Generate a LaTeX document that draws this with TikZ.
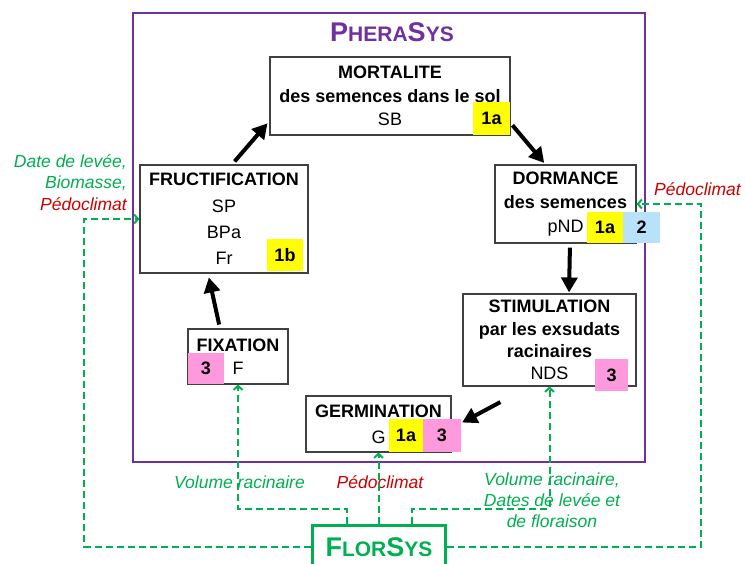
\documentclass[tikz,border=0pt]{standalone}
\usepackage{fontspec}
\setmainfont{Liberation Sans}
\usetikzlibrary{arrows.meta}
\definecolor{phpurple}{RGB}{112,48,160}
\definecolor{flgreen}{RGB}{0,176,80}
\definecolor{pdred}{RGB}{204,0,0}
\definecolor{bdyellow}{RGB}{255,255,0}
\definecolor{bdblue}{RGB}{183,226,250}
\definecolor{bdpink}{RGB}{255,153,221}
\definecolor{boxgray}{RGB}{64,64,64}
\newcommand\bigL[1]{{\fontsize{27}{27}\selectfont #1}}
\newcommand\smallL[1]{{\fontsize{21}{21}\selectfont #1}}
\tikzset{
  procbox/.style={draw=boxgray, line width=1.1pt, fill=white, inner sep=0pt, align=center},
  badge/.style={inner sep=0pt, font=\fontsize{18}{20}\selectfont\bfseries},
  blkarrow/.style={line width=4pt, -{Triangle[length=15pt,width=16pt]}},
  grdash/.style={flgreen, line width=2pt, dash pattern=on 7pt off 4pt, -{Straight Barb[length=4pt,width=9pt]}},
  lbl/.style={inner sep=0pt, font=\fontsize{17.5}{21}\selectfont\itshape}
}
\begin{document}
\begin{tikzpicture}[x=1pt,y=-1pt]
\useasboundingbox (0,0) rectangle (745,563);
\fill[white] (0,0) rectangle (745,563);
% PheraSys frame
\draw[phpurple, line width=2.7pt] (133,13) rectangle (645,462);
\node[anchor=base, text=phpurple, inner sep=0pt, font=\bfseries] (phtitle) at (392,41.5)
  {\bigL{P}\smallL{HERA}\bigL{S}\smallL{YS}};
% process boxes
\node[procbox, minimum width=240pt, minimum height=78pt, font=\fontsize{18}{23.5}\selectfont] (mor) at (390,96)
  {\textbf{MORTALITE}\\ \textbf{des semences dans le sol}\\ SB};
\node[procbox, minimum width=141pt, minimum height=78pt, font=\fontsize{18}{24}\selectfont] (dor) at (565.5,204)
  {\textbf{DORMANCE}\\ \textbf{des semences}\\ pND};
\node[procbox, minimum width=168pt, minimum height=108pt, font=\fontsize{18}{26.3}\selectfont] (fru) at (224,219)
  {\textbf{FRUCTIFICATION}\\ SP\\ BPa\\ Fr};
\node[procbox, minimum width=100pt, minimum height=55pt, font=\fontsize{18}{23}\selectfont] (fix) at (238,356.5)
  {\textbf{FIXATION}\\ F};
\node[procbox, minimum width=173pt, minimum height=92pt, font=\fontsize{18}{22.3}\selectfont] (sti) at (549.5,340)
  {\textbf{STIMULATION}\\ \textbf{par les exsudats}\\ \textbf{racinaires}\\ NDS};
\node[procbox, minimum width=145pt, minimum height=56pt, font=\fontsize{18}{26}\selectfont] (ger) at (378.5,424)
  {\textbf{GERMINATION}\\ G};
% badges
\node[badge, fill=bdyellow, minimum width=37pt, minimum height=33pt] (mb) at (491.5,118.5) {1a};
\node[badge, fill=bdyellow, minimum width=36pt, minimum height=31pt] (db1) at (605,227.5) {1a};
\node[badge, fill=bdblue, minimum width=37pt, minimum height=31pt] (db2) at (641.5,227.5) {2};
\node[badge, fill=bdyellow, minimum width=36pt, minimum height=32pt] (fb) at (285,255) {1b};
\node[badge, fill=bdpink, minimum width=36pt, minimum height=31pt] (xb) at (206,368.5) {3};
\node[badge, fill=bdpink, minimum width=33pt, minimum height=32pt] (sb) at (611.5,375) {3};
\node[badge, fill=bdyellow, minimum width=34pt, minimum height=33pt] (gb1) at (406,435.5) {1a};
\node[badge, fill=bdpink, minimum width=38pt, minimum height=33pt] (gb2) at (442,435.5) {3};
% FlorSys
\node[draw=flgreen, line width=3pt, fill=white, minimum width=133pt, minimum height=44pt, inner sep=0pt] (flo) at (378.5,547) {};
\node[anchor=base, text=flgreen, inner sep=0pt, font=\bfseries] (flotitle) at (379,556)
  {\bigL{F}\smallL{LOR}\bigL{S}\smallL{YS}};
% black cycle arrows
\draw[blkarrow, shorten <=4pt, shorten >=4pt] ([xshift=-18pt]fix.north) -- ([xshift=-16pt]fru.south);
\draw[blkarrow, shorten <=4pt, shorten >=3pt] ([xshift=8pt]fru.north) -- ([yshift=-25pt]mor.west);
\draw[blkarrow, shorten <=3pt, shorten >=2pt] ([yshift=-27pt]mor.east) -- ([xshift=-20pt]dor.north);
\draw[blkarrow, shorten <=4pt, shorten >=1pt] ([xshift=4.5pt]dor.south) -- ([xshift=19.5pt]sti.north);
\draw[blkarrow, shorten <=33pt, shorten >=1pt] ([xshift=-20pt]sti.south) -- ([yshift=12.5pt]gb2.east);
% labels
\node[lbl, anchor=base east, text=flgreen] (l1a) at (127,167) {Date de levée,};
\node[lbl, anchor=base east, text=flgreen] (l1b) at (127,188) {Biomasse,};
\node[lbl, anchor=base east, text=pdred] (l1c) at (127,210) {Pédoclimat};
\node[lbl, anchor=base west, text=pdred] (l2) at (654,195) {Pédoclimat};
\node[lbl, anchor=base, text=flgreen] (l3) at (239.5,488) {Volume racinaire};
\node[lbl, anchor=base, text=pdred] (l4) at (380,488) {Pédoclimat};
\node[lbl, anchor=base, text=flgreen] (l5a) at (552,485) {Volume racinaire,};
\node[lbl, anchor=base, text=flgreen] (l5b) at (552,506) {Dates de levée et};
\node[lbl, anchor=base, text=flgreen] (l5c) at (552,527) {de floraison};
% green dashed influences
\draw[grdash] (flo.west) -| ([xshift=-55pt]fru.west) -- (fru.west);
\draw[grdash] (flo.east) -| ([xshift=64pt]dor.east) -- (dor.east);
\draw[grdash] ([xshift=-31.5pt]flo.north) -- ++(0,-15) -| (fix.south);
\draw[grdash] (flo.north) -- (ger.south);
\draw[grdash] ([xshift=33.5pt]flo.north) -- ++(0,-15) -| (sti.south);
\end{tikzpicture}
\end{document}
